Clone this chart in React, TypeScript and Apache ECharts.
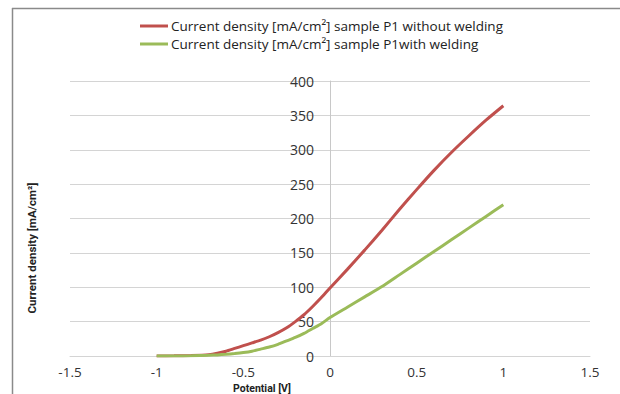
import React, { useEffect, useRef } from "react";
import * as echarts from "echarts";

const potential = [-1, -0.9, -0.8, -0.7, -0.65, -0.6, -0.55, -0.5, -0.45, -0.4, -0.35, -0.3, -0.25, -0.2, -0.15, -0.1, -0.05, 0, 0.1, 0.2, 0.3, 0.4, 0.5, 0.6, 0.7, 0.8, 0.9, 1.0];
const withoutWelding = [0, 0.3, 0.8, 2, 4, 7, 11, 15, 19, 23, 28, 34, 41, 50, 60, 72, 85, 99, 126, 154, 183, 213, 242, 270, 296, 320, 343, 364];
const withWelding = [0, 0.1, 0.3, 1, 1.6, 2.5, 3.6, 5, 7, 10, 13, 17, 22, 27, 33, 40, 47, 56, 71, 86, 101, 118, 135, 152, 169, 186, 203, 220];

const seriesNames = [
  "Current density [mA/cm²] sample P1 without welding",
  "Current density [mA/cm²] sample P1with welding",
];
const xAxisTitle = "Potential [V]";
const yAxisTitle = "Current density [mA/cm²]";

export default function App() {
  const ref = useRef<HTMLDivElement>(null);
  useEffect(() => {
    if (!ref.current) return;
    const chart = echarts.init(ref.current, null, { renderer: "svg" });
    const font = "'Open Sans', 'DejaVu Sans', sans-serif";
    chart.setOption({
      animation: false,
      backgroundColor: "#ffffff",
      textStyle: { fontFamily: font },
      legend: {
        orient: "vertical",
        left: 140,
        top: 19,
        padding: 0,
        itemWidth: 28,
        itemHeight: 3,
        itemGap: 4,
        icon: "rect",
        textStyle: { fontFamily: font, fontSize: 13.5, color: "#222", padding: [0, 0, 0, -2] },
        data: seriesNames,
      },
      grid: { left: 70, right: 30, top: 81, bottom: 38, containLabel: false },
      xAxis: {
        type: "value",
        min: -1.5,
        max: 1.5,
        interval: 0.5,
        axisLine: { onZero: true, lineStyle: { color: "#d4d4d4", width: 1 } },
        axisTick: { show: false },
        splitLine: { show: false },
        axisLabel: { fontFamily: font, fontSize: 13.5, color: "#333", margin: 9 },
      },
      yAxis: {
        type: "value",
        min: 0,
        max: 400,
        interval: 50,
        offset: -260,
        axisLine: { show: true, onZero: false, lineStyle: { color: "#c8c8c8", width: 1 } },
        axisTick: { show: false },
        splitLine: { show: true, lineStyle: { color: "#d4d4d4", width: 1 } },
        axisLabel: { fontFamily: font, fontSize: 14, color: "#333", margin: 16 },
      },
      graphic: [
        { type: "line", shape: { x1: 12, y1: 8.5, x2: 620, y2: 8.5 }, style: { stroke: "#8a8a8a", lineWidth: 1.5 } },
        { type: "line", shape: { x1: 12.5, y1: 8, x2: 12.5, y2: 394 }, style: { stroke: "#8a8a8a", lineWidth: 1.5 } },
        {
          type: "text",
          x: 262,
          y: 388,
          style: { text: xAxisTitle, fontFamily: "Roboto, sans-serif", fontWeight: "bold", fontSize: 10.5, fill: "#222", align: "center", verticalAlign: "middle" },
        },
        {
          type: "text",
          x: 32,
          y: 248,
          rotation: Math.PI / 2,
          style: { text: yAxisTitle, fontFamily: "Roboto, sans-serif", fontWeight: "bold", fontSize: 11.5, fill: "#222", align: "center", verticalAlign: "middle" },
        },
      ],
      series: [
        {
          name: seriesNames[0],
          type: "line",
          data: potential.map((p, i) => [p, withoutWelding[i]]),
          showSymbol: false,
          smooth: 0.2,
          lineStyle: { color: "#C0504D", width: 3 },
          itemStyle: { color: "#C0504D" },
        },
        {
          name: seriesNames[1],
          type: "line",
          data: potential.map((p, i) => [p, withWelding[i]]),
          showSymbol: false,
          smooth: 0.2,
          lineStyle: { color: "#9BBB59", width: 3 },
          itemStyle: { color: "#9BBB59" },
        },
      ],
    });
    return () => chart.dispose();
  }, []);
  return <div ref={ref} style={{ position: "absolute", left: 0, top: 0, width: 620, height: 394 }} />;
}
